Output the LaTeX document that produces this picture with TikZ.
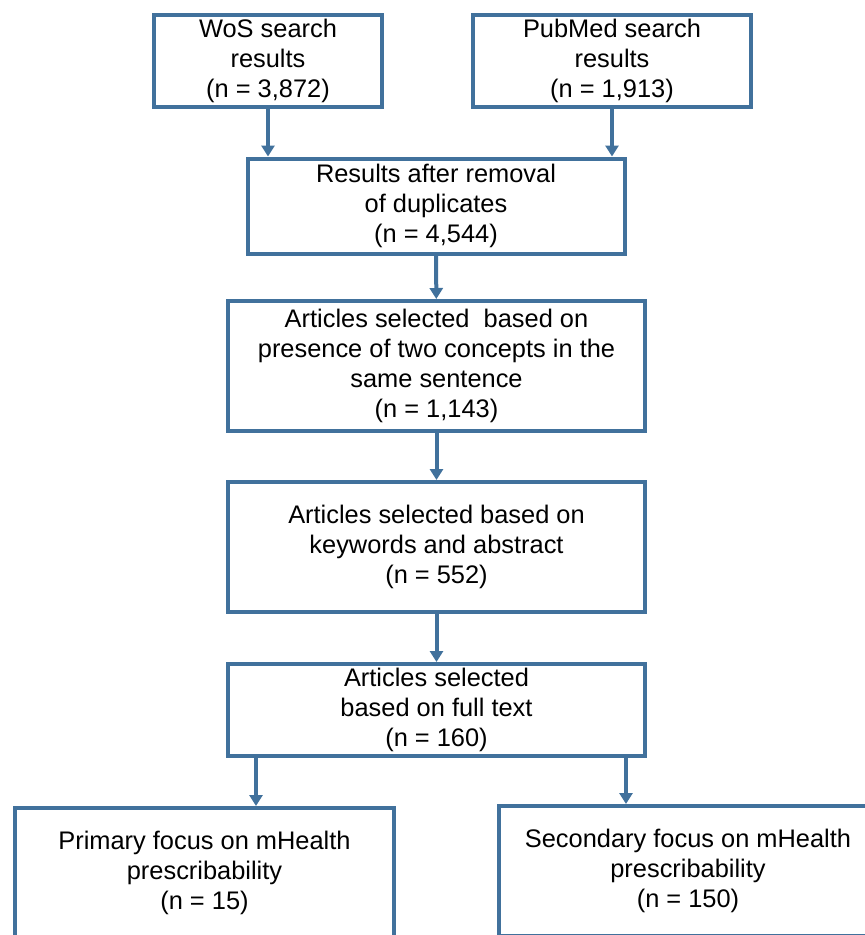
\documentclass[tikz,border=0pt]{standalone}
\usepackage{fontspec}
\setmainfont{Liberation Sans}
\usetikzlibrary{arrows.meta}
\definecolor{boxblue}{RGB}{65,113,156}

\begin{document}
\begin{tikzpicture}[x=1pt,y=-1pt,
  box/.style={draw=boxblue, line width=4pt, align=center, inner sep=0pt,
    font=\fontsize{25.4}{30}\selectfont},
  arr/.style={draw=boxblue, line width=4pt, -{Triangle[width=13pt,length=11pt]}}]
\useasboundingbox (0,0) rectangle (865,935);

\node[box, minimum width=228, minimum height=92] (wos) at (268,61) {WoS search\\results\\(n = 3,872)};
\node[box, minimum width=278, minimum height=92] (pub) at (612,61) {PubMed search\\results\\(n = 1,913)};
\node[box, minimum width=377, minimum height=95] (res) at (436,206) {Results after removal\\of duplicates\\(n = 4,544)};
\node[box, minimum width=417, minimum height=130] (conc) at (436.5,366) {Articles selected\ \ based on\\presence of two concepts in the\\same sentence\\(n = 1,143)};
\node[box, minimum width=417, minimum height=130] (kw) at (436.5,547) {Articles selected based on\\keywords and abstract\\(n = 552)};
\node[box, minimum width=417, minimum height=92] (full) at (436.5,710) {Articles selected\\based on full text\\(n = 160)};
\node[box, minimum width=379, minimum height=130] (prim) at (204.5,873) {Primary focus on mHealth\\prescribability\\(n = 15)};
\node[box, minimum width=378, minimum height=130] (sec) at (688,871) {Secondary focus on mHealth\\prescribability\\(n = 150)};

\draw[arr] (wos) -- (wos |- res.north);
\draw[arr] (pub) -- (pub |- res.north);
\draw[arr] (res) -- (conc);
\draw[arr] (conc) -- (kw);
\draw[arr] (kw) -- (full);

\coordinate (fl) at ([xshift=30pt]full.south west);
\coordinate (fr) at ([xshift=-21pt]full.south east);
\draw[arr] (fl) -- (fl |- prim.north);
\draw[arr] (fr) -- (fr |- sec.north);

\end{tikzpicture}
\end{document}
